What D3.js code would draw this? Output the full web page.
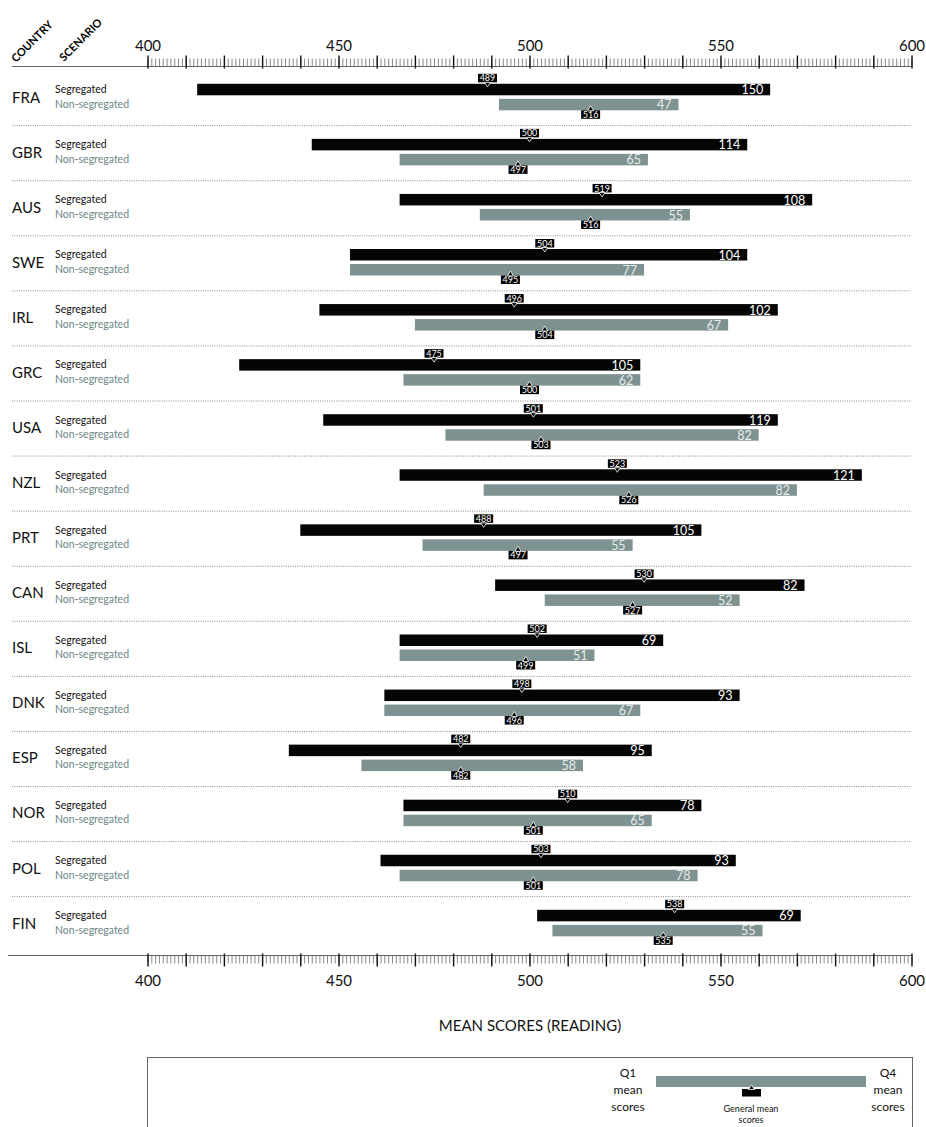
<!DOCTYPE html>
<html>
<head>
<meta charset="utf-8">
<script src="https://cdn.jsdelivr.net/npm/d3@7"></script>
<style>
  body { margin: 0; background: #fff; }
  svg { display: block; font-family: Lato, "Open Sans", sans-serif; }
</style>
</head>
<body>
<svg width="926" height="1127"></svg>
<script>
// data
var countries = ["FRA", "GBR", "AUS", "SWE", "IRL", "GRC", "USA", "NZL", "PRT", "CAN", "ISL", "DNK", "ESP", "NOR", "POL", "FIN"];
var segQ1 = [413, 443, 466, 453, 445, 424, 446, 466, 440, 491, 466, 462, 437, 467, 461, 502];
var segQ4 = [563, 557, 574, 557, 565, 529, 565, 587, 545, 572, 535, 555, 532, 545, 554, 571];
var segMean = [489, 500, 519, 504, 496, 475, 501, 523, 488, 530, 502, 498, 482, 510, 503, 538];
var segRangeLabel = [150, 114, 108, 104, 102, 105, 119, 121, 105, 82, 69, 93, 95, 78, 93, 69];
var nonQ1 = [492, 466, 487, 453, 470, 467, 478, 488, 472, 504, 466, 462, 456, 467, 466, 506];
var nonQ4 = [539, 531, 542, 530, 552, 529, 560, 570, 527, 555, 517, 529, 514, 532, 544, 561];
var nonMean = [516, 497, 516, 495, 504, 500, 503, 526, 497, 527, 499, 496, 482, 501, 501, 535];
var nonRangeLabel = [47, 65, 55, 77, 67, 62, 82, 82, 55, 52, 51, 67, 58, 65, 78, 55];
var axisLabels = [400, 450, 500, 550, 600];

var segColor = "#050505",
    nonColor = "#7f9292",
    nonTextColor = "#6b8585",
    barH = 11.5;

var svg = d3.select("svg");

var x = d3.scaleLinear().domain([400, 600]).range([147.5, 911.5]);
var y = d3.scaleBand().domain(countries).range([70.6, 951.7]);

var rows = countries.map(function(c, i) {
  return {country: c,
          seg: {q1: segQ1[i], q4: segQ4[i], mean: segMean[i], label: segRangeLabel[i]},
          non: {q1: nonQ1[i], q4: nonQ4[i], mean: nonMean[i], label: nonRangeLabel[i]}};
});

// header
svg.append("text")
    .attr("transform", "translate(16,63) rotate(-45)")
    .style("font-size", "11px").style("font-weight", "bold")
    .text("COUNTRY");
svg.append("text")
    .attr("transform", "translate(64,62) rotate(-45)")
    .style("font-size", "11px").style("font-weight", "bold")
    .text("SCENARIO");

// axes (ruler style)
function ruler(g, axisFn, top) {
  g.append("g").call(axisFn(x).tickValues(d3.range(400, 601, 1)).tickSize(8).tickFormat(""))
    .call(function(s) { s.select(".domain").remove(); s.selectAll("line").attr("stroke", "#555").attr("stroke-width", 0.7); });
  g.append("g").call(axisFn(x).tickValues(d3.range(400, 601, 10)).tickSize(13).tickFormat(""))
    .attr("transform", "translate(0," + (top ? 2 : -2) + ")")
    .call(function(s) { s.select(".domain").remove(); s.selectAll("line").attr("stroke", "#111").attr("stroke-width", 1.4); });
  g.append("g").call(axisFn(x).tickValues(axisLabels).tickSize(0).tickPadding(top ? 16 : 20))
    .call(function(s) {
      s.select(".domain").remove();
      s.selectAll("text").style("font-size", "15px").attr("fill", "#111").style("font-family", "Lato, 'Open Sans', sans-serif");
    });
}

svg.append("line").attr("x1", 12).attr("x2", x(600)).attr("y1", 66.5).attr("y2", 66.5)
    .attr("stroke", "#666").attr("stroke-width", 1);
ruler(svg.append("g").attr("transform", "translate(0,66.5)"), d3.axisTop, true);

svg.append("line").attr("x1", 8).attr("x2", x(600)).attr("y1", 955.5).attr("y2", 955.5)
    .attr("stroke", "#666").attr("stroke-width", 1);
ruler(svg.append("g").attr("transform", "translate(0,955.5)"), d3.axisBottom, false);

svg.append("text")
    .attr("x", 530).attr("y", 1031)
    .attr("text-anchor", "middle")
    .style("font-size", "15px").attr("fill", "#111")
    .text("MEAN SCORES (READING)");

// row separators
svg.selectAll(".sep")
    .data(countries.slice(0, -1))
  .enter().append("line")
    .attr("class", "sep")
    .attr("x1", 12).attr("x2", x(600))
    .attr("y1", function(d) { return y(d) + y.bandwidth(); })
    .attr("y2", function(d) { return y(d) + y.bandwidth(); })
    .attr("stroke", "#8a8a8a").attr("stroke-width", 1)
    .attr("stroke-dasharray", "1,1.3");

var row = svg.selectAll(".row")
    .data(rows)
  .enter().append("g")
    .attr("class", "row")
    .attr("transform", function(d) { return "translate(0," + y(d.country) + ")"; });

row.append("text")
    .attr("x", 12).attr("y", 32)
    .style("font-size", "15px").attr("fill", "#111")
    .text(function(d) { return d.country; });
row.append("text")
    .attr("x", 55).attr("y", 22.5)
    .style("font-size", "10.5px").attr("fill", "#111")
    .text("Segregated");
row.append("text")
    .attr("x", 55).attr("y", 37)
    .style("font-size", "10.5px").attr("fill", nonTextColor)
    .text("Non-segregated");

var segTop = 13.2, nonTop = 28.2;

// bars
row.append("rect")
    .attr("x", function(d) { return x(d.seg.q1); })
    .attr("width", function(d) { return x(d.seg.q4) - x(d.seg.q1); })
    .attr("y", segTop).attr("height", barH)
    .attr("fill", segColor);
row.append("rect")
    .attr("x", function(d) { return x(d.non.q1); })
    .attr("width", function(d) { return x(d.non.q4) - x(d.non.q1); })
    .attr("y", nonTop).attr("height", barH)
    .attr("fill", nonColor);

// range labels
row.append("text")
    .attr("x", function(d) { return x(d.seg.q4) - 7; })
    .attr("y", segTop + 10.6)
    .attr("text-anchor", "end")
    .style("font-size", "12.5px").attr("fill", "#fff")
    .text(function(d) { return d.seg.label; });
row.append("text")
    .attr("x", function(d) { return x(d.non.q4) - 7; })
    .attr("y", nonTop + 10.6)
    .attr("text-anchor", "end")
    .style("font-size", "12.5px").attr("fill", "#e6ecec")
    .text(function(d) { return d.non.label; });

// mean markers
function marker(g, key, above) {
  var m = g.append("g")
      .attr("transform", function(d) { return "translate(" + x(d[key].mean) + ",0)"; });
  var boxY = above ? segTop - 10 : nonTop + barH;
  m.append("rect")
      .attr("x", -9.5).attr("y", boxY).attr("width", 19).attr("height", 8.5)
      .attr("fill", "#000");
  m.append("path")
      .attr("d", above
        ? "M-3," + (segTop - 1.5) + "L3," + (segTop - 1.5) + "L0," + (segTop + 3) + "Z"
        : "M-3," + (nonTop + barH + 0.5) + "L3," + (nonTop + barH + 0.5) + "L0," + (nonTop + barH - 4.5) + "Z")
      .attr("fill", "#000").attr("stroke", "#fff").attr("stroke-width", 0.8);
  m.append("text")
      .attr("x", 0).attr("y", boxY + 7.6)
      .attr("text-anchor", "middle")
      .style("font-size", "9px").attr("fill", "#fff")
      .text(function(d) { return d[key].mean; });
}
marker(row, "seg", true);
marker(row, "non", false);

// legend
var legend = svg.append("g").attr("class", "legend");
legend.append("rect")
    .attr("x", 147.5).attr("y", 1057.5).attr("width", 765).attr("height", 100)
    .attr("fill", "none").attr("stroke", "#666").attr("stroke-width", 1);
legend.append("rect")
    .attr("x", 656).attr("y", 1076).attr("width", 210).attr("height", 11)
    .attr("fill", nonColor);
legend.append("rect")
    .attr("x", 742).attr("y", 1089).attr("width", 19).attr("height", 7.5)
    .attr("fill", "#000");
legend.append("path")
    .attr("d", "M748.5,1089.5L754.5,1089.5L751.5,1085Z")
    .attr("fill", "#000").attr("stroke", "#fff").attr("stroke-width", 0.8);
[["Q1", "mean", "scores", 628], ["Q4", "mean", "scores", 888]].forEach(function(t) {
  var txt = legend.append("text")
      .attr("text-anchor", "middle")
      .style("font-size", "12px").attr("fill", "#111");
  t.slice(0, 3).forEach(function(s, i) {
    txt.append("tspan").attr("x", t[3]).attr("y", 1077 + i * 17).text(s);
  });
});
legend.append("text")
    .attr("x", 751).attr("y", 1112).attr("text-anchor", "middle")
    .style("font-size", "9px").attr("fill", "#111")
    .text("General mean");
legend.append("text")
    .attr("x", 751).attr("y", 1123).attr("text-anchor", "middle")
    .style("font-size", "9px").attr("fill", "#111")
    .text("scores");
</script>
</body>
</html>
